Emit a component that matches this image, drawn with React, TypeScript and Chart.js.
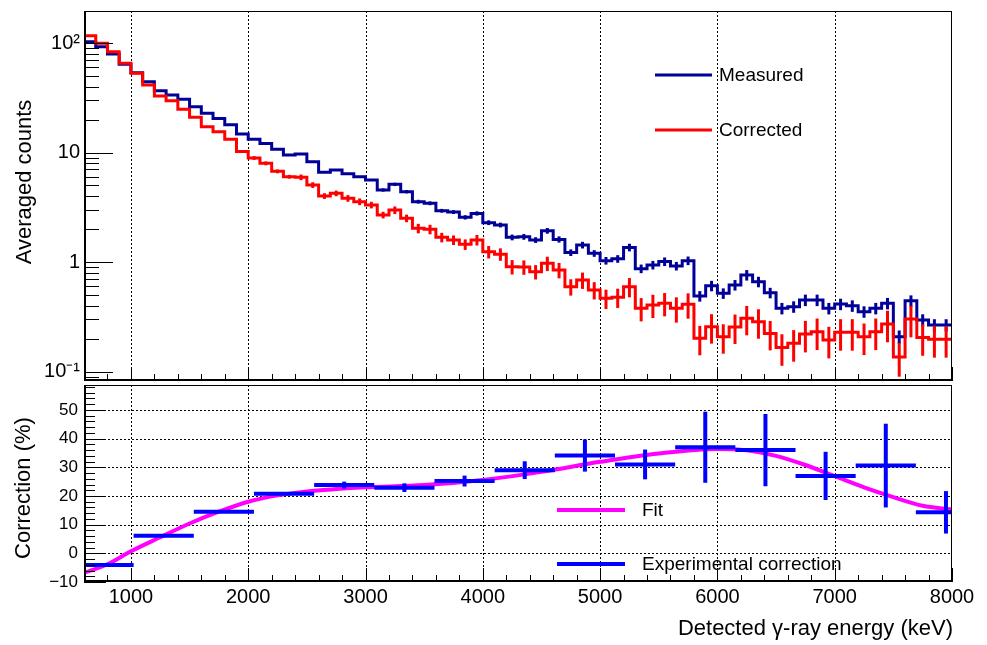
import React, { useEffect, useRef } from 'react';
import { Chart, registerables } from 'chart.js';

Chart.register(...registerables);

const FONT = "'Liberation Sans', Arial, Helvetica, sans-serif";

// ---------- top panel: histogram (bins of 100 keV starting at 600 keV) ----------
const BIN_START = 600;
const BIN_WIDTH = 100;

const measured = [
  102.8, 92.5, 79.4, 63.9, 53.6, 44.3, 36.7, 33.5, 30.6, 26.2,
  22.8, 20.4, 17.9, 14.8, 13.2, 12.1, 10.7, 9.49, 9.69, 8.24,
  6.59, 6.92, 6.4, 6.01, 5.61, 4.55, 5.12, 4.39, 3.56, 3.44,
  2.94, 2.86, 2.56, 2.78, 2.29, 2.18, 1.68, 1.7, 1.59, 1.93,
  1.61, 1.22, 1.43, 1.2, 1.03, 1.07, 1.36, 0.87, 0.94, 1.01,
  0.92, 1.03, 0.489, 0.607, 0.518, 0.617, 0.761, 0.661, 0.524, 0.378,
  0.391, 0.45, 0.45, 0.378, 0.413, 0.399, 0.352, 0.378, 0.42, 0.208,
  0.443, 0.295, 0.266, 0.266,
];
const measuredErrPct = [
  1, 1, 1, 1, 1, 1, 1, 1, 1, 1,
  1.5, 1.5, 1.5, 1.5, 2, 2, 2, 2,
  3, 3, 3, 3, 3, 3, 3, 3.5, 3.5, 3.5,
  4, 4, 4, 4, 4.5, 4.5, 5, 5,
  6, 6, 6, 6, 6.5, 7, 7, 7,
  8, 8, 8, 9, 9, 9, 9, 9,
  11, 11, 11, 11, 11, 11, 11, 12, 12, 12,
  12, 12, 12, 12, 12, 12, 12, 14, 12, 13, 13, 13,
];
const corrected = [
  116.6, 99.4, 83.3, 65.3, 52.9, 41.3, 32.8, 29.7, 24.8, 21.0,
  17.2, 15.5, 13.2, 10.2, 8.91, 7.97, 6.73, 6.01, 5.94, 5.05,
  4.01, 4.24, 3.82, 3.56, 3.32, 2.69, 2.98, 2.51, 2.03, 1.99,
  1.68, 1.59, 1.45, 1.59, 1.24, 1.18, 0.906, 0.9, 0.815, 0.973,
  0.845, 0.595, 0.685, 0.555, 0.466, 0.476, 0.595, 0.378, 0.405, 0.42,
  0.378, 0.411, 0.201, 0.257, 0.208, 0.255, 0.306, 0.285, 0.223, 0.166,
  0.181, 0.22, 0.231, 0.194, 0.228, 0.228, 0.208, 0.231, 0.272, 0.136,
  0.302, 0.205, 0.197, 0.197,
];
const correctedErrPct = [
  1.5, 1.5, 1.5, 1.5, 1.5, 1.5, 1.5, 1.5, 1.5, 1.5,
  3, 3, 3, 3, 4, 4, 4, 4,
  6, 6, 6, 6, 7, 7, 7, 7, 8, 8,
  10, 10, 10, 10, 11, 11, 13, 13,
  15, 15, 15, 15, 16, 17, 17, 18,
  20, 20, 20, 24, 24, 24, 26, 26,
  30, 30, 30, 30, 30, 30, 30, 32, 32, 32,
  32, 32, 32, 32, 32, 32, 32, 34, 32, 32, 32, 32,
];

// ---------- bottom panel: correction ----------
const corrLow = [510, 1023, 1536, 2049, 2562, 3075, 3588, 4101, 4614, 5127, 5640, 6153, 6666, 7179, 7692];
const corrHigh = [1023, 1536, 2049, 2562, 3075, 3588, 4101, 4614, 5127, 5640, 6153, 6666, 7179, 7692, 8205];
const corrValue = [-4.1, 6.1, 14.5, 20.8, 23.8, 22.9, 25.2, 29.0, 34.1, 31.0, 37.0, 36.0, 27.0, 30.6, 14.3];
const corrErr = [0.3, 0.3, 0.4, 0.5, 1.2, 1.5, 1.9, 3.1, 5.6, 5.2, 12.4, 12.6, 8.4, 14.6, 7.4];

const fitEnergy = [600, 800, 1000, 1250, 1500, 1750, 2000, 2250, 2500, 2750, 3000, 3500, 4000, 4500, 5000, 5500, 6000, 6250, 6500, 6750, 7000, 7250, 7500, 7750, 8000];
const fitValue = [-6.8, -3.8, 0.7, 5.6, 10.4, 14.5, 18.0, 20.2, 21.6, 22.4, 23.0, 23.8, 25.6, 28.4, 31.9, 34.8, 36.4, 35.9, 34.0, 30.8, 26.9, 23.0, 19.6, 16.6, 15.3];

// ---------- axes ----------
const X_MIN = 600;
const X_MAX = 8000;
const X_TICKS = [1000, 2000, 3000, 4000, 5000, 6000, 7000, 8000];
const TOP_Y_MIN = 0.082;
const TOP_Y_MAX = 196;
const TOP_Y_TICKS = [0.1, 1, 10, 100];
const TOP_Y_LABELS = ['10\u207B\u00B9', '1', '10', '10\u00B2'];
const BOT_Y_MIN = -10;
const BOT_Y_MAX = 58.7;
const BOT_Y_TICKS = [-10, 0, 10, 20, 30, 40, 50];
const BOT_Y_LABELS = ['\u221210', '0', '10', '20', '30', '40', '50'];

const MEASURED_COLOR = '#000099';
const CORRECTED_COLOR = '#ff0000';
const EXP_COLOR = '#0000ff';
const FIT_COLOR = '#ff00ff';

const TOP_H = 384;
const BOT_H = 261;

function stepPoints(values: number[]) {
  const pts = values.map((v, i) => ({ x: BIN_START + i * BIN_WIDTH, y: v }));
  pts.push({ x: BIN_START + values.length * BIN_WIDTH, y: values[values.length - 1] });
  return pts;
}

function line(ctx: CanvasRenderingContext2D, x1: number, y1: number, x2: number, y2: number) {
  ctx.beginPath();
  ctx.moveTo(x1, y1);
  ctx.lineTo(x2, y2);
  ctx.stroke();
}

function noPad(s: any) {
  s.paddingTop = 0;
  s.paddingBottom = 0;
  s.paddingLeft = 0;
  s.paddingRight = 0;
}

function drawXGrid(chart: any) {
  const { ctx, chartArea: a, scales } = chart;
  ctx.save();
  ctx.strokeStyle = '#000';
  ctx.lineWidth = 1;
  ctx.setLineDash([2, 2]);
  X_TICKS.forEach((v) => {
    if (v >= X_MAX) return;
    const px = Math.round(scales.x.getPixelForValue(v)) + 0.5;
    line(ctx, px, a.top, px, a.bottom);
  });
  ctx.restore();
}

function drawXTicks(chart: any) {
  const { ctx, chartArea: a, scales } = chart;
  ctx.save();
  ctx.strokeStyle = '#000';
  ctx.lineWidth = 1;
  for (let e = X_MIN; e <= X_MAX; e += 200) {
    const px = Math.round(scales.x.getPixelForValue(e)) + 0.5;
    const len = e % 1000 === 0 ? 14 : 7;
    line(ctx, px, a.bottom, px, a.bottom - len);
  }
  ctx.restore();
}

function drawFrame(chart: any) {
  const { ctx, chartArea: a } = chart;
  ctx.save();
  ctx.strokeStyle = '#000';
  ctx.lineWidth = 1;
  ctx.strokeRect(a.left + 0.5, a.top + 0.5, a.width - 1, a.height - 1);
  ctx.lineWidth = 2;
  line(ctx, a.left + 1, a.top, a.left + 1, a.bottom);
  line(ctx, a.left, a.bottom - 1, a.right, a.bottom - 1);
  ctx.restore();
}

function legendEntry(ctx: CanvasRenderingContext2D, x1: number, x2: number, y: number, color: string, width: number, text: string, tx: number) {
  ctx.save();
  ctx.strokeStyle = color;
  ctx.lineWidth = width;
  line(ctx, x1, y, x2, y);
  ctx.fillStyle = '#000';
  ctx.font = `19px ${FONT}`;
  ctx.textAlign = 'left';
  ctx.textBaseline = 'middle';
  ctx.fillText(text, tx, y + 1);
  ctx.restore();
}

function vTitle(ctx: CanvasRenderingContext2D, text: string, cx: number, cy: number) {
  ctx.save();
  ctx.translate(cx, cy);
  ctx.rotate(-Math.PI / 2);
  ctx.fillStyle = '#000';
  ctx.font = `22px ${FONT}`;
  ctx.textAlign = 'center';
  ctx.textBaseline = 'middle';
  ctx.fillText(text, 0, 0);
  ctx.restore();
}

const topDecor = {
  id: 'topDecor',
  beforeDatasetsDraw(chart: any) {
    drawXGrid(chart);
  },
  afterDatasetsDraw(chart: any) {
    const { ctx, chartArea: a, scales } = chart;
    ctx.save();
    ctx.beginPath();
    ctx.rect(a.left, a.top, a.width, a.height);
    ctx.clip();
    const series = [
      { values: measured, err: measuredErrPct, color: MEASURED_COLOR },
      { values: corrected, err: correctedErrPct, color: CORRECTED_COLOR },
    ];
    series.forEach((s) => {
      ctx.strokeStyle = s.color;
      ctx.lineWidth = 3;
      s.values.forEach((v, i) => {
        const e = (v * s.err[i]) / 100;
        const cx = scales.x.getPixelForValue(BIN_START + (i + 0.5) * BIN_WIDTH);
        const y1 = scales.y.getPixelForValue(v + e);
        const y2 = scales.y.getPixelForValue(Math.max(v - e, 1e-4));
        if (y2 - y1 < 3) return;
        line(ctx, cx, y1, cx, y2);
      });
    });
    ctx.restore();
  },
  afterDraw(chart: any) {
    const { ctx, chartArea: a, scales } = chart;
    drawFrame(chart);
    drawXTicks(chart);
    ctx.save();
    ctx.strokeStyle = '#000';
    ctx.lineWidth = 1;
    for (let d = -2; d <= 2; d++) {
      for (let m = 1; m <= 9; m++) {
        const v = m * Math.pow(10, d);
        if (v < TOP_Y_MIN || v > TOP_Y_MAX) continue;
        const py = Math.round(scales.y.getPixelForValue(v)) + 0.5;
        line(ctx, a.left, py, a.left + (m === 1 ? 29 : 15), py);
      }
    }
    ctx.restore();
    legendEntry(ctx, 655, 712, 75, MEASURED_COLOR, 3, 'Measured', 719);
    legendEntry(ctx, 655, 712, 130, CORRECTED_COLOR, 3, 'Corrected', 719);
    vTitle(ctx, 'Averaged counts', 25, 182);
  },
};

const botDecor = {
  id: 'botDecor',
  beforeDatasetsDraw(chart: any) {
    const { ctx, chartArea: a, scales } = chart;
    drawXGrid(chart);
    ctx.save();
    ctx.strokeStyle = '#000';
    ctx.lineWidth = 1;
    ctx.setLineDash([2, 2]);
    BOT_Y_TICKS.forEach((v) => {
      if (v <= BOT_Y_MIN) return;
      const py = Math.round(scales.y.getPixelForValue(v)) + 0.5;
      line(ctx, a.left, py, a.right, py);
    });
    ctx.restore();
  },
  afterDatasetsDraw(chart: any) {
    const { ctx, chartArea: a, scales } = chart;
    ctx.save();
    ctx.beginPath();
    ctx.rect(a.left, a.top, a.width, a.height);
    ctx.clip();
    ctx.strokeStyle = EXP_COLOR;
    ctx.lineWidth = 4;
    corrValue.forEach((v, i) => {
      const py = scales.y.getPixelForValue(v);
      const xl = scales.x.getPixelForValue(corrLow[i]);
      const xh = scales.x.getPixelForValue(corrHigh[i]);
      const xc = scales.x.getPixelForValue((corrLow[i] + corrHigh[i]) / 2);
      line(ctx, xl, py, xh, py);
      const y1 = scales.y.getPixelForValue(v + corrErr[i]);
      const y2 = scales.y.getPixelForValue(v - corrErr[i]);
      if (y2 - y1 > 4) line(ctx, xc, y1, xc, y2);
    });
    ctx.restore();
  },
  afterDraw(chart: any) {
    const { ctx, chartArea: a, scales } = chart;
    drawFrame(chart);
    drawXTicks(chart);
    ctx.save();
    ctx.strokeStyle = '#000';
    ctx.lineWidth = 1;
    for (let v = BOT_Y_MIN; v <= BOT_Y_MAX; v += 2) {
      const py = Math.round(scales.y.getPixelForValue(v)) + 0.5;
      line(ctx, a.left, py, a.left + (v % 10 === 0 ? 22 : 11), py);
    }
    ctx.restore();
    legendEntry(ctx, 557, 625, 510 - TOP_H, FIT_COLOR, 4, 'Fit', 642);
    legendEntry(ctx, 557, 625, 564 - TOP_H, EXP_COLOR, 4, 'Experimental correction', 642);
    vTitle(ctx, 'Correction (%)', 24, 488 - TOP_H);
    ctx.save();
    ctx.fillStyle = '#000';
    ctx.font = `22px ${FONT}`;
    ctx.textAlign = 'right';
    ctx.textBaseline = 'middle';
    ctx.fillText('Detected \u03B3-ray energy (keV)', 953, 629 - TOP_H);
    ctx.restore();
  },
};

export default function App() {
  const topRef = useRef<HTMLCanvasElement>(null);
  const botRef = useRef<HTMLCanvasElement>(null);

  useEffect(() => {
    Chart.defaults.font.family = FONT;
    Chart.defaults.color = '#000';

    const top = new Chart(topRef.current as HTMLCanvasElement, {
      type: 'line',
      data: {
        datasets: [
          {
            label: 'Corrected',
            data: stepPoints(corrected),
            stepped: true,
            borderColor: CORRECTED_COLOR,
            borderWidth: 3,
            pointRadius: 0,
            fill: false,
            order: 0,
          },
          {
            label: 'Measured',
            data: stepPoints(measured),
            stepped: true,
            borderColor: MEASURED_COLOR,
            borderWidth: 3,
            pointRadius: 0,
            fill: false,
            order: 1,
          },
        ],
      },
      options: {
        animation: false,
        responsive: false,
        maintainAspectRatio: false,
        layout: { padding: { left: 0, right: 35, top: 11, bottom: 0 } },
        plugins: { legend: { display: false }, tooltip: { enabled: false } },
        scales: {
          x: {
            type: 'linear',
            min: X_MIN,
            max: X_MAX,
            afterBuildTicks: (s: any) => {
              s.ticks = X_TICKS.map((v) => ({ value: v }));
            },
            ticks: { display: false },
            grid: { display: false, drawTicks: false },
            border: { display: false },
            afterFit: (s: any) => {
              s.height = TOP_H - 381;
              noPad(s);
            },
          },
          y: {
            type: 'logarithmic',
            min: TOP_Y_MIN,
            max: TOP_Y_MAX,
            afterBuildTicks: (s: any) => {
              s.ticks = TOP_Y_TICKS.map((v) => ({ value: v }));
            },
            ticks: {
              autoSkip: false,
              padding: 4,
              font: { size: 20, family: FONT },
              color: '#000',
              callback: (value: any) => {
                const i = TOP_Y_TICKS.indexOf(Number(value));
                return i >= 0 ? TOP_Y_LABELS[i] : '';
              },
            },
            grid: { display: false, drawTicks: false },
            border: { display: false },
            afterFit: (s: any) => {
              s.width = 84;
              noPad(s);
            },
          },
        },
      },
      plugins: [topDecor],
    } as any);

    const bot = new Chart(botRef.current as HTMLCanvasElement, {
      type: 'line',
      data: {
        datasets: [
          {
            label: 'Fit',
            data: fitEnergy.map((x, i) => ({ x, y: fitValue[i] })),
            borderColor: FIT_COLOR,
            borderWidth: 4,
            pointRadius: 0,
            fill: false,
            cubicInterpolationMode: 'monotone',
          },
        ],
      },
      options: {
        animation: false,
        responsive: false,
        maintainAspectRatio: false,
        layout: { padding: { left: 0, right: 35, top: 385 - TOP_H, bottom: 0 } },
        plugins: { legend: { display: false }, tooltip: { enabled: false } },
        scales: {
          x: {
            type: 'linear',
            min: X_MIN,
            max: X_MAX,
            afterBuildTicks: (s: any) => {
              s.ticks = X_TICKS.map((v) => ({ value: v }));
            },
            ticks: {
              autoSkip: false,
              maxRotation: 0,
              padding: 3,
              font: { size: 20, family: FONT },
              color: '#000',
              callback: (value: any) => String(value),
            },
            grid: { display: false, drawTicks: false },
            border: { display: false },
            afterFit: (s: any) => {
              s.height = TOP_H + BOT_H - 582;
              noPad(s);
            },
          },
          y: {
            type: 'linear',
            min: BOT_Y_MIN,
            max: BOT_Y_MAX,
            afterBuildTicks: (s: any) => {
              s.ticks = BOT_Y_TICKS.map((v) => ({ value: v }));
            },
            ticks: {
              autoSkip: false,
              padding: 6,
              font: { size: 17, family: FONT },
              color: '#000',
              callback: (value: any) => {
                const i = BOT_Y_TICKS.indexOf(Number(value));
                return i >= 0 ? BOT_Y_LABELS[i] : '';
              },
            },
            grid: { display: false, drawTicks: false },
            border: { display: false },
            afterFit: (s: any) => {
              s.width = 84;
              noPad(s);
            },
          },
        },
      },
      plugins: [botDecor],
    } as any);

    return () => {
      top.destroy();
      bot.destroy();
    };
  }, []);

  return (
    <div style={{ position: 'absolute', left: 0, top: 0, width: 987, height: 645, background: '#fff' }}>
      <canvas ref={topRef} width={987} height={TOP_H} style={{ position: 'absolute', left: 0, top: 0, display: 'block' }} />
      <canvas ref={botRef} width={987} height={BOT_H} style={{ position: 'absolute', left: 0, top: TOP_H, display: 'block' }} />
    </div>
  );
}
